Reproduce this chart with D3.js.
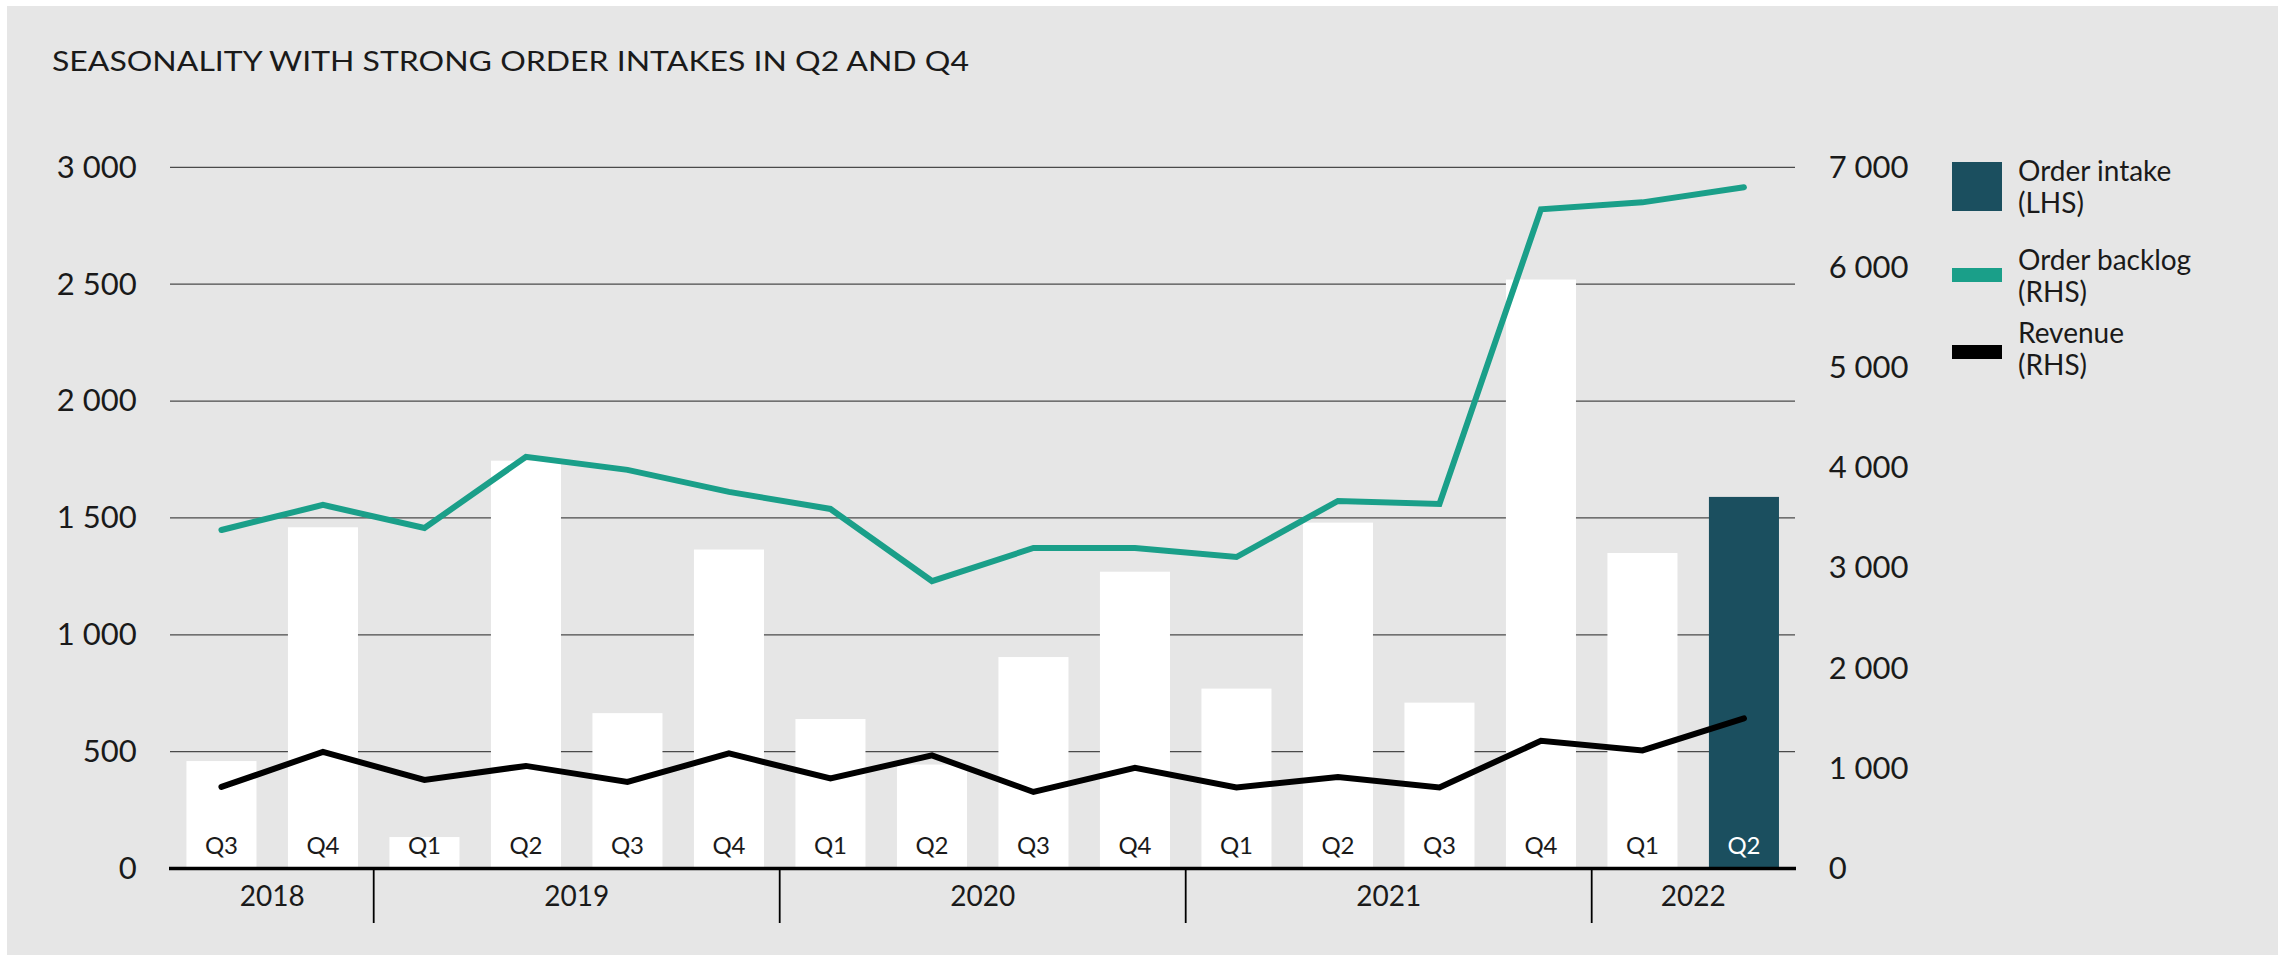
<!DOCTYPE html>
<html>
<head>
<meta charset="utf-8">
<script src="https://cdn.jsdelivr.net/npm/d3@7"></script>
<style>
  body { margin: 0; background: #ffffff; }
  .narrow { font-family: Lato, "Open Sans", sans-serif; }
  .wide { font-family: Lato, "Open Sans", sans-serif; }
</style>
</head>
<body>
<div id="chart"></div>
<script>
// quarters on the x axis, one entry per bar
var quarters = ["Q3","Q4","Q1","Q2","Q3","Q4","Q1","Q2","Q3","Q4","Q1","Q2","Q3","Q4","Q1","Q2"];
var years    = ["2018","2018","2019","2019","2019","2019","2020","2020","2020","2020","2021","2021","2021","2021","2022","2022"];

// order intake, LHS
var orderIntake  = [460, 1460, 135, 1745, 665, 1365, 640, 445, 905, 1270, 770, 1480, 710, 2520, 1350, 1590];
// order backlog and revenue, RHS
var orderBacklog = [3380, 3630, 3400, 4110, 3980, 3760, 3590, 2870, 3200, 3200, 3110, 3670, 3640, 6580, 6650, 6800];
var revenue      = [815, 1165, 885, 1025, 865, 1150, 900, 1130, 765, 1005, 810, 915, 810, 1275, 1180, 1500];

var leftTicks  = [0, 500, 1000, 1500, 2000, 2500, 3000];
var rightTicks = [0, 1000, 2000, 3000, 4000, 5000, 6000, 7000];

var legendItems = [
    {name: "Order intake", side: "(LHS)"},
    {name: "Order backlog", side: "(RHS)"},
    {name: "Revenue", side: "(RHS)"}
];

var W = 2285, H = 961;
var dark = "#1b4f5f", teal = "#1a9f89", ink = "#1a1a1a";

var svg = d3.select("#chart").append("svg").attr("width", W).attr("height", H);

svg.append("rect").attr("x", 7).attr("y", 6).attr("width", 2271).attr("height", 949).attr("fill", "#e6e6e6");

svg.append("text").attr("class", "narrow")
    .attr("x", 52).attr("y", 71)
    .attr("font-size", 27).attr("fill", ink)
    .attr("textLength", 917).attr("lengthAdjust", "spacingAndGlyphs")
    .text("SEASONALITY WITH STRONG ORDER INTAKES IN Q2 AND Q4");

var x = d3.scaleBand().domain(d3.range(quarters.length)).range([170.7, 1794.7])
    .paddingInner(0.31).paddingOuter(0.155);
var yL = d3.scaleLinear().domain([0, 3000]).range([868.6, 167.3]);
var yR = d3.scaleLinear().domain([0, 7000]).range([868.6, 167.3]);

var loc = d3.formatLocale({decimal: ".", thousands: " ", grouping: [3], currency: ["", ""]});
var fmt = loc.format(",");

// gridlines
svg.append("g").selectAll("line").data(leftTicks.slice(1)).enter().append("line")
    .attr("x1", 170).attr("x2", 1795)
    .attr("y1", function(d){ return yL(d); }).attr("y2", function(d){ return yL(d); })
    .attr("stroke", "#4a4a4a").attr("stroke-width", 1.3);

// bars
svg.append("g").selectAll("rect").data(orderIntake).enter().append("rect")
    .attr("x", function(d,i){ return x(i); })
    .attr("y", function(d){ return yL(d); })
    .attr("width", x.bandwidth())
    .attr("height", function(d){ return yL(0) - yL(d); })
    .attr("fill", function(d,i){ return i == orderIntake.length-1 ? dark : "#ffffff"; });

// quarter labels inside bars
svg.append("g").selectAll("text").data(quarters).enter().append("text")
    .attr("class", "narrow")
    .attr("x", function(d,i){ return x(i) + x.bandwidth()/2; })
    .attr("y", 854)
    .attr("text-anchor", "middle").attr("font-size", 24)
    .attr("fill", function(d,i){ return i == quarters.length-1 ? "#ffffff" : ink; })
    .text(function(d){ return d; });

// lines
var valueLine = d3.line()
    .x(function(d,i){ return x(i) + x.bandwidth()/2; })
    .y(function(d){ return yR(d); });

svg.append("path").datum(orderBacklog).attr("d", valueLine)
    .attr("fill", "none").attr("stroke", teal).attr("stroke-width", 6)
    .attr("stroke-linecap", "round").attr("stroke-linejoin", "miter");

svg.append("path").datum(revenue).attr("d", valueLine)
    .attr("fill", "none").attr("stroke", "#000000").attr("stroke-width", 6)
    .attr("stroke-linecap", "round").attr("stroke-linejoin", "miter");

// baseline
svg.append("line").attr("x1", 169).attr("x2", 1796)
    .attr("y1", yL(0)).attr("y2", yL(0))
    .attr("stroke", "#000000").attr("stroke-width", 3.5);

// left axis
var leftAxis = svg.append("g").attr("class", "wide")
    .attr("transform", "translate(170.7,0)")
    .call(d3.axisLeft(yL).tickValues(leftTicks).tickFormat(fmt).tickSize(0).tickPadding(34));
leftAxis.select(".domain").remove();
leftAxis.selectAll("text").attr("font-size", 31).attr("fill", ink).attr("font-family", null);

// right axis
var rightAxis = svg.append("g").attr("class", "wide")
    .attr("transform", "translate(1794.7,0)")
    .call(d3.axisRight(yR).tickValues(rightTicks).tickFormat(fmt).tickSize(0).tickPadding(34));
rightAxis.select(".domain").remove();
rightAxis.selectAll("text").attr("font-size", 31).attr("fill", ink).attr("font-family", null);

// year groups and separators
var groups = d3.groups(d3.range(years.length), function(i){ return years[i]; });
var step = x.step();
svg.append("g").selectAll("line").data(groups.slice(1)).enter().append("line")
    .attr("x1", function(g){ return x(g[1][0]) - step*x.paddingInner()/2; })
    .attr("x2", function(g){ return x(g[1][0]) - step*x.paddingInner()/2; })
    .attr("y1", yL(0)).attr("y2", 923)
    .attr("stroke", "#000000").attr("stroke-width", 1.8);

svg.append("g").selectAll("text").data(groups).enter().append("text")
    .attr("class", "narrow")
    .attr("x", function(g){
        var first = g[1][0], last = g[1][g[1].length-1];
        var a = first == 0 ? 170.7 : x(first) - step*x.paddingInner()/2;
        var b = last == years.length-1 ? 1794.7 : x(last) + x.bandwidth() + step*x.paddingInner()/2;
        return (a + b)/2;
    })
    .attr("y", 906).attr("text-anchor", "middle").attr("font-size", 28).attr("fill", ink)
    .text(function(g){ return g[0]; });

// legend
var leg = svg.append("g").attr("class", "wide");
leg.append("rect").attr("x", 1952).attr("y", 162).attr("width", 50).attr("height", 49).attr("fill", dark);
leg.append("rect").attr("x", 1952).attr("y", 268).attr("width", 50).attr("height", 14).attr("fill", teal);
leg.append("rect").attr("x", 1952).attr("y", 345).attr("width", 50).attr("height", 14).attr("fill", "#000000");

var legBase = [181, 270, 343];
leg.selectAll(".lt").data(legendItems).enter().append("text")
    .attr("class", "lt")
    .attr("x", 2018).attr("y", function(d,i){ return legBase[i]; })
    .attr("font-size", 28).attr("fill", ink)
    .each(function(d){
        d3.select(this).append("tspan").attr("x", 2018).text(d.name);
        d3.select(this).append("tspan").attr("x", 2018).attr("dy", 32).text(d.side);
    });
</script>
</body>
</html>
